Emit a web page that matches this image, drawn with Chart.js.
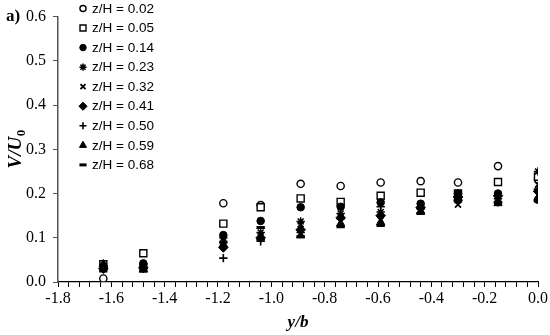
<!DOCTYPE html>
<html><head><meta charset="utf-8">
<script src="https://cdn.jsdelivr.net/npm/chart.js@4/dist/chart.umd.min.js"></script>
<style>html,body{margin:0;padding:0;background:#fff}#wrap{width:550px;height:335px;position:relative}</style>
</head><body><div id="wrap"><canvas id="c" width="550" height="335"></canvas></div>
<script>
const yOverB = [-1.63, -1.48, -1.18, -1.04, -0.89, -0.74, -0.59, -0.44, -0.30, -0.15, 0.0];
const seriesLabels = ['z/H = 0.02','z/H = 0.05','z/H = 0.14','z/H = 0.23','z/H = 0.32','z/H = 0.41','z/H = 0.50','z/H = 0.59','z/H = 0.68'];
const z002 = [0.008, 0.035, 0.178, 0.174, 0.222, 0.217, 0.225, 0.228, 0.225, 0.262, 0.232];
const z005 = [0.040, 0.065, 0.132, 0.169, 0.189, 0.181, 0.195, 0.202, 0.200, 0.226, 0.238];
const z014 = [0.036, 0.042, 0.106, 0.138, 0.169, 0.170, 0.180, 0.177, 0.200, 0.200, 0.186];
const z023 = [0.033, 0.040, 0.100, 0.112, 0.137, 0.155, 0.158, 0.170, 0.185, 0.188, 0.250];
const z032 = [0.035, 0.035, 0.095, 0.105, 0.130, 0.148, 0.140, 0.165, 0.175, 0.190, 0.220];
const z041 = [0.030, 0.032, 0.078, 0.100, 0.118, 0.145, 0.150, 0.168, 0.192, 0.195, 0.205];
const z050 = [0.035, 0.030, 0.054, 0.092, 0.112, 0.143, 0.170, 0.165, 0.185, 0.180, 0.210];
const z059 = [0.040, 0.028, 0.085, 0.100, 0.105, 0.132, 0.135, 0.160, 0.190, 0.178, 0.190];
const z068 = [0.025, 0.025, 0.090, 0.123, 0.103, 0.125, 0.128, 0.155, 0.183, 0.180, 0.183];
const xTickLabels = [-1.8,-1.6,-1.4,-1.2,-1.0,-0.8,-0.6,-0.4,-0.2,0.0];
const yTickLabels = [0.0,0.1,0.2,0.3,0.4,0.5,0.6];

const allSeries = [z002,z005,z014,z023,z032,z041,z050,z059,z068];
const styles = [
  {pointStyle:'circle', pointRadius:3.6, backgroundColor:'#fff', borderColor:'#000', borderWidth:1.4},
  {pointStyle:'rect', pointRadius:5, backgroundColor:'#fff', borderColor:'#000', borderWidth:1.4},
  {pointStyle:'circle', pointRadius:3.8, backgroundColor:'#000', borderColor:'#000', borderWidth:1},
  {pointStyle:'star', pointRadius:4.2, backgroundColor:'#000', borderColor:'#000', borderWidth:1.5},
  {pointStyle:'crossRot', pointRadius:4.2, backgroundColor:'#000', borderColor:'#000', borderWidth:1.8},
  {pointStyle:'rectRot', pointRadius:4.8, backgroundColor:'#000', borderColor:'#000', borderWidth:1},
  {pointStyle:'cross', pointRadius:4.2, backgroundColor:'#000', borderColor:'#000', borderWidth:1.6},
  {pointStyle:'triangle', pointRadius:4.8, backgroundColor:'#000', borderColor:'#000', borderWidth:1},
  {pointStyle:'line', pointRadius:4.2, backgroundColor:'#000', borderColor:'#000', borderWidth:3}
];
const datasets = allSeries.map((s,i)=>Object.assign({
  label: seriesLabels[i],
  data: s.map((v,j)=>({x:yOverB[j], y:v})),
  showLine:false, pointHoverRadius:4, order: 9-i
}, styles[i]));

const LEFT=58, RIGHT=538, TOP=10, BOTTOM=282;

const decor = {
  id:'decor',
  afterDraw(chart){
    const ctx=chart.ctx;
    ctx.save();
    // a)
    ctx.fillStyle='#000';
    ctx.font='bold 17px "Liberation Serif", serif';
    ctx.textBaseline='alphabetic';ctx.textAlign='left';
    ctx.fillText('a)',6,21);
    // x title
    ctx.font='bold italic 17px "Liberation Serif", serif';
    ctx.textAlign='center';
    ctx.fillText('y/b', (chart.chartArea.left+chart.chartArea.right)/2, 327);
    // y title with subscript
    ctx.translate(21,(chart.chartArea.top+chart.chartArea.bottom)/2);
    ctx.rotate(-Math.PI/2);
    ctx.font='bold italic 19px "Liberation Serif", serif';
    const main='V/U', sub='0';
    const wMain=ctx.measureText(main).width;
    ctx.font='bold 13px "Liberation Serif", serif';
    const wSub=ctx.measureText(sub).width;
    const start=-(wMain+wSub)/2;
    ctx.textAlign='left';
    ctx.font='bold italic 19px "Liberation Serif", serif';
    ctx.fillText(main,start,0);
    ctx.font='bold 13px "Liberation Serif", serif';
    ctx.fillText(sub,start+wMain+0.5,4);
    ctx.restore();
    // legend
    ctx.save();
    const x0=83, y0=8.5, dy=19.55;
    chart.data.datasets.forEach((ds,i)=>{
      const y=y0+i*dy;
      ctx.fillStyle=ds.backgroundColor; ctx.strokeStyle=ds.borderColor; ctx.lineWidth=ds.borderWidth;
      const r = ds.pointRadius*0.85;
      Chart.helpers.drawPoint(ctx,{pointStyle:ds.pointStyle, radius:r, borderWidth:ds.borderWidth, rotation:0}, x0, y);
      ctx.fillStyle='#000';
      ctx.font='13.5px "Liberation Sans", Arial, sans-serif';
      ctx.textAlign='left'; ctx.textBaseline='middle';
      ctx.fillText(ds.label, 92, y+0.5);
    });
    ctx.restore();
  }
};

new Chart(document.getElementById('c'),{
  type:'scatter',
  data:{datasets},
  options:{
    responsive:false, animation:false, devicePixelRatio:1,
    layout:{padding:{left:0,right:12,top:TOP,bottom:0}},
    plugins:{legend:{display:false}, tooltip:{enabled:false}},
    scales:{
      x:{
        type:'linear', min:-1.8, max:0, 
        afterBuildTicks(s){ const t=[]; for(let k=0;k<=45;k++){ t.push({value:-1.8+k*0.04}); } s.ticks=t; },
        afterFit(s){ s.height=335-BOTTOM; },
        ticks:{
          autoSkip:false, maxRotation:0, padding:2,
          color:'#000', font:{family:'"Liberation Serif", serif', size:16},
          callback(v,i){ if(i%5!==0) return ''; const lab=xTickLabels[i/5]; return lab.toFixed(1); }
        },
        grid:{display:true, drawOnChartArea:false, drawTicks:true, tickLength:5, color:'#000', lineWidth:1},
        border:{display:true, color:'#000', width:1.2}
      },
      y:{
        type:'linear', min:0, max:0.6,
        afterBuildTicks(s){ s.ticks=yTickLabels.map(v=>({value:v})); },
        afterFit(s){ s.width=LEFT; },
        ticks:{ color:'#000', padding:7, font:{family:'"Liberation Serif", serif', size:16},
          callback(v){ return Number(v).toFixed(1); } },
        grid:{display:true, drawOnChartArea:false, drawTicks:true, tickLength:5, color:'#555', lineWidth:1},
        border:{display:true, color:'#555', width:1.5}
      }
    }
  },
  plugins:[decor]
});
</script>
</body></html>
